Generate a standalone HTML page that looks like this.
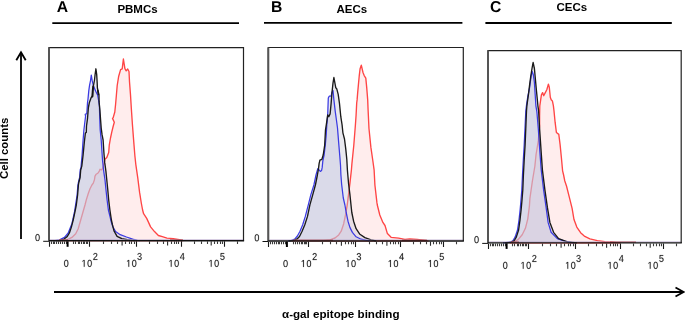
<!DOCTYPE html>
<html><head><meta charset="utf-8">
<style>
html,body{margin:0;padding:0;background:#fff;width:685px;height:321px;overflow:hidden}
svg{display:block;filter:blur(0.3px)}
text{font-family:"Liberation Sans",sans-serif}
.b{font-weight:bold}
.tl{font-size:10px;fill:#111}
.sp{font-size:8px;fill:#111}
</style></head><body>
<svg width="685" height="321" viewBox="0 0 685 321">
<text class="b" x="0" y="0" font-size="10.5" transform="translate(8.2,179) rotate(-90)" fill="#000" textLength="61.3" lengthAdjust="spacingAndGlyphs">Cell counts</text>
<line x1="21" y1="53" x2="21" y2="239" stroke="#000" stroke-width="1.8"/>
<polyline points="16.3,60.3 21,52.3 25.7,60.3" fill="none" stroke="#000" stroke-width="1.8"/>
<line x1="54" y1="292" x2="683" y2="292" stroke="#000" stroke-width="1.8"/>
<polyline points="675.5,287.5 683.6,292 675.5,296.5" fill="none" stroke="#000" stroke-width="1.8"/>
<text class="b" x="282" y="317.8" font-size="11" textLength="117.5" lengthAdjust="spacingAndGlyphs">α-gal epitope binding</text>
<text class="b" x="56.8" y="12" font-size="15.7" text-rendering="geometricPrecision">A</text>
<text class="b" x="117.4" y="13.1" font-size="11.5">PBMCs</text>
<line x1="52.3" y1="23.2" x2="239" y2="23.2" stroke="#000" stroke-width="1.8"/>
<text class="b" x="270.9" y="11.6" font-size="15.7" text-rendering="geometricPrecision">B</text>
<text class="b" x="336.5" y="13.1" font-size="11.5">AECs</text>
<line x1="264" y1="22.8" x2="462.4" y2="22.8" stroke="#000" stroke-width="1.8"/>
<text class="b" x="489.9" y="11.7" font-size="15.7" text-rendering="geometricPrecision">C</text>
<text class="b" x="556.5" y="11" font-size="11.5">CECs</text>
<line x1="485.4" y1="23" x2="671.8" y2="23" stroke="#000" stroke-width="1.8"/>
<defs><path id="g0" d="M1059 705Q1059 352 934.5 166.0Q810 -20 567 -20Q324 -20 202.0 165.0Q80 350 80 705Q80 1068 198.5 1249.0Q317 1430 573 1430Q822 1430 940.5 1247.0Q1059 1064 1059 705ZM876 705Q876 1010 805.5 1147.0Q735 1284 573 1284Q407 1284 334.5 1149.0Q262 1014 262 705Q262 405 335.5 266.0Q409 127 569 127Q728 127 802.0 269.0Q876 411 876 705Z"/><path id="g1" d="M515 0L515 1237L197 1010L197 1180L530 1409L696 1409L696 0Z"/><path id="g2" d="M103 0V127Q154 244 227.5 333.5Q301 423 382.0 495.5Q463 568 542.5 630.0Q622 692 686.0 754.0Q750 816 789.5 884.0Q829 952 829 1038Q829 1154 761.0 1218.0Q693 1282 572 1282Q457 1282 382.5 1219.5Q308 1157 295 1044L111 1061Q131 1230 254.5 1330.0Q378 1430 572 1430Q785 1430 899.5 1329.5Q1014 1229 1014 1044Q1014 962 976.5 881.0Q939 800 865.0 719.0Q791 638 582 468Q467 374 399.0 298.5Q331 223 301 153H1036V0Z"/><path id="g3" d="M1049 389Q1049 194 925.0 87.0Q801 -20 571 -20Q357 -20 229.5 76.5Q102 173 78 362L264 379Q300 129 571 129Q707 129 784.5 196.0Q862 263 862 395Q862 510 773.5 574.5Q685 639 518 639H416V795H514Q662 795 743.5 859.5Q825 924 825 1038Q825 1151 758.5 1216.5Q692 1282 561 1282Q442 1282 368.5 1221.0Q295 1160 283 1049L102 1063Q122 1236 245.5 1333.0Q369 1430 563 1430Q775 1430 892.5 1331.5Q1010 1233 1010 1057Q1010 922 934.5 837.5Q859 753 715 723V719Q873 702 961.0 613.0Q1049 524 1049 389Z"/><path id="g4" d="M881 319V0H711V319H47V459L692 1409H881V461H1079V319ZM711 1206Q709 1200 683.0 1153.0Q657 1106 644 1087L283 555L229 481L213 461H711Z"/><path id="g5" d="M1053 459Q1053 236 920.5 108.0Q788 -20 553 -20Q356 -20 235.0 66.0Q114 152 82 315L264 336Q321 127 557 127Q702 127 784.0 214.5Q866 302 866 455Q866 588 783.5 670.0Q701 752 561 752Q488 752 425.0 729.0Q362 706 299 651H123L170 1409H971V1256H334L307 809Q424 899 598 899Q806 899 929.5 777.0Q1053 655 1053 459Z"/></defs>
<path d="M58.0,240.6 L63.2,240.6 L67.0,239.9 L71.9,237.4 L75.7,233.7 L78.2,228.7 L80.7,220.0 L83.2,211.2 L85.0,205.0 L86.3,199.9 L88.2,193.7 L90.0,188.7 L91.9,185.0 L93.3,183.1 L94.4,179.9 L95.0,176.1 L96.2,174.2 L98.1,173.0 L99.3,171.1 L100.0,169.3 L101.8,169.9 L103.1,166.8 L104.9,159.3 L106.8,157.4 L108.7,152.5 L109.3,144.8 L110.5,138.0 L111.7,132.4 L113.0,127.0 L114.3,122.3 L112.5,118.4 L113.2,117.6 L114.8,112.0 L115.6,104.3 L116.4,95.0 L117.2,85.5 L118.7,76.2 L120.6,69.6 L122.2,68.9 L123.4,59.0 L124.9,68.7 L126.2,70.9 L127.7,69.0 L129.0,71.5 L129.5,81.8 L130.5,94.9 L131.4,109.5 L132.4,124.3 L133.7,141.1 L134.9,156.0 L135.8,164.3 L137.7,177.4 L139.6,192.4 L141.3,203.0 L142.6,210.0 L143.6,213.7 L146.7,218.4 L150.6,226.9 L154.5,231.6 L158.4,235.5 L162.3,236.7 L167.0,238.1 L173.2,238.6 L179.4,239.7 L183.0,240.6 Z" fill="#ffeded" stroke="#ff4545" stroke-width="1.35" stroke-linejoin="round"/>
<path d="M56.0,240.6 L59.5,240.5 L63.8,239.3 L67.0,236.8 L69.4,233.0 L71.3,227.4 L73.2,220.0 L75.1,211.2 L76.3,205.0 L77.6,195.0 L78.4,185.0 L78.8,182.5 L80.1,177.5 L80.7,170.0 L81.8,166.1 L83.1,155.0 L84.3,142.5 L85.4,133.0 L86.3,132.4 L86.5,126.0 L87.5,118.7 L88.4,107.5 L89.4,102.4 L91.2,97.5 L92.5,96.0 L92.8,90.0 L93.4,86.0 L94.5,80.0 L95.1,74.5 L95.9,68.8 L96.7,74.5 L97.2,83.2 L97.4,88.0 L98.2,91.5 L99.0,95.0 L99.1,101.9 L99.9,110.0 L100.6,120.0 L101.2,128.0 L102.1,134.9 L103.1,140.0 L103.9,152.5 L104.7,162.4 L105.9,171.1 L106.8,180.0 L107.8,190.0 L108.7,200.0 L109.9,210.0 L111.4,220.0 L112.5,225.0 L114.0,230.8 L117.1,236.3 L121.8,238.6 L127.3,239.7 L134.3,240.6 Z" fill="#c8c8d6" fill-opacity="0.4"/><path d="M55.0,240.6 L59.5,239.9 L64.5,237.4 L68.2,233.0 L71.9,223.7 L74.4,212.5 L75.8,203.6 L77.1,195.0 L77.9,185.0 L78.3,183.0 L79.6,177.5 L80.2,170.0 L81.0,167.4 L82.1,154.9 L83.1,140.0 L83.9,130.0 L84.5,125.0 L85.6,116.0 L85.2,114.3 L86.8,113.7 L87.5,102.5 L88.0,99.0 L88.2,96.9 L88.8,90.6 L89.5,85.7 L90.5,80.7 L91.3,75.1 L92.2,80.7 L93.5,86.0 L95.7,91.2 L97.6,94.9 L98.7,100.9 L99.4,106.0 L99.8,120.0 L100.2,130.0 L101.2,140.0 L102.5,160.0 L103.7,171.1 L105.0,180.0 L106.0,190.0 L107.1,200.0 L108.4,210.0 L110.2,217.4 L111.3,222.0 L113.0,227.0 L115.6,231.6 L120.2,234.7 L126.5,237.0 L132.7,239.1 L137.4,240.3 L140.0,240.6 Z" fill="#c4c4e0" fill-opacity="0.4"/>
<path d="M55.0,240.6 L59.5,239.9 L64.5,237.4 L68.2,233.0 L71.9,223.7 L74.4,212.5 L75.8,203.6 L77.1,195.0 L77.9,185.0 L78.3,183.0 L79.6,177.5 L80.2,170.0 L81.0,167.4 L82.1,154.9 L83.1,140.0 L83.9,130.0 L84.5,125.0 L85.6,116.0 L85.2,114.3 L86.8,113.7 L87.5,102.5 L88.0,99.0 L88.2,96.9 L88.8,90.6 L89.5,85.7 L90.5,80.7 L91.3,75.1 L92.2,80.7 L93.5,86.0 L95.7,91.2 L97.6,94.9 L98.7,100.9 L99.4,106.0 L99.8,120.0 L100.2,130.0 L101.2,140.0 L102.5,160.0 L103.7,171.1 L105.0,180.0 L106.0,190.0 L107.1,200.0 L108.4,210.0 L110.2,217.4 L111.3,222.0 L113.0,227.0 L115.6,231.6 L120.2,234.7 L126.5,237.0 L132.7,239.1 L137.4,240.3 L140.0,240.6" fill="none" stroke="#3a3ae2" stroke-width="1.25" stroke-linejoin="round"/>
<path d="M56.0,240.6 L59.5,240.5 L63.8,239.3 L67.0,236.8 L69.4,233.0 L71.3,227.4 L73.2,220.0 L75.1,211.2 L76.3,205.0 L77.6,195.0 L78.4,185.0 L78.8,182.5 L80.1,177.5 L80.7,170.0 L81.8,166.1 L83.1,155.0 L84.3,142.5 L85.4,133.0 L86.3,132.4 L86.5,126.0 L87.5,118.7 L88.4,107.5 L89.4,102.4 L91.2,97.5 L92.5,96.0 L92.8,90.0 L93.4,86.0 L94.5,80.0 L95.1,74.5 L95.9,68.8 L96.7,74.5 L97.2,83.2 L97.4,88.0 L98.2,91.5 L99.0,95.0 L99.1,101.9 L99.9,110.0 L100.6,120.0 L101.2,128.0 L102.1,134.9 L103.1,140.0 L103.9,152.5 L104.7,162.4 L105.9,171.1 L106.8,180.0 L107.8,190.0 L108.7,200.0 L109.9,210.0 L111.4,220.0 L112.5,225.0 L114.0,230.8 L117.1,236.3 L121.8,238.6 L127.3,239.7 L134.3,240.6" fill="none" stroke="#1a1a1a" stroke-width="1.35" stroke-linejoin="round"/>
<path d="M93.2,86.5 L92.7,91.0 L92.4,96.5" fill="none" stroke="#151515" stroke-width="1.9" stroke-linecap="round"/>
<path d="M97.8,90.5 L98.4,94.5" fill="none" stroke="#151515" stroke-width="1.6" stroke-linecap="round"/>
<line x1="50" y1="239.7" x2="243.5" y2="239.7" stroke="#b8a8cc" stroke-width="0.9" opacity="0.8"/>
<line x1="59" y1="240.0" x2="68" y2="240.0" stroke="#a02020" stroke-width="1" opacity="0.85"/>
<line x1="170" y1="240.0" x2="183" y2="240.0" stroke="#a02020" stroke-width="1" opacity="0.85"/>
<path d="M49,240.8 V47.6 H243.5 V240.8" fill="none" stroke="#222" stroke-width="1.2"/>
<line x1="49" y1="47.6" x2="49" y2="240.8" stroke="#555" stroke-width="2"/>
<line x1="49" y1="240.8" x2="244.1" y2="240.8" stroke="#111" stroke-width="1.4"/>
<line x1="43.2" y1="241.3" x2="49" y2="241.3" stroke="#111" stroke-width="1"/>
<g fill="#1a1a1a" stroke="#1a1a1a" stroke-width="30"><use href="#g0" transform="translate(35.05,241.00) scale(0.004395,-0.004883)"/></g>
<path d="M49.5,241.3v5.5 M89.5,241.3v5.5 M136.5,241.3v5.5 M181.5,241.3v5.5 M224.5,241.3v5.5 " stroke="#1a1a1a" stroke-width="1.1" fill="none"/>
<path d="M51.5,241.3v2.8 M53.5,241.3v2.8 M54.5,241.3v2.8 M56.5,241.3v2.8 M58.5,241.3v2.8 M60.5,241.3v2.8 M62.5,241.3v2.8 M64.5,241.3v2.8 M66.5,241.3v2.8 M73.5,241.3v2.8 M75.5,241.3v2.8 M78.5,241.3v2.8 M79.5,241.3v2.8 M81.5,241.3v2.8 M83.5,241.3v2.8 M84.5,241.3v2.8 M86.5,241.3v2.8 M87.5,241.3v2.8 M103.5,241.3v2.8 M111.5,241.3v2.8 M117.5,241.3v2.8 M125.5,241.3v2.8 M129.5,241.3v2.8 M131.5,241.3v2.8 M134.5,241.3v2.8 M149.5,241.3v2.8 M157.5,241.3v2.8 M163.5,241.3v2.8 M171.5,241.3v2.8 M174.5,241.3v2.8 M176.5,241.3v2.8 M178.5,241.3v2.8 M194.5,241.3v2.8 M201.5,241.3v2.8 M207.5,241.3v2.8 M214.5,241.3v2.8 M217.5,241.3v2.8 M220.5,241.3v2.8 M222.5,241.3v2.8 M237.5,241.3v2.8 " stroke="#3a3a3a" stroke-width="1.1" fill="none"/>
<path d="M122.1,241.3v4.3 M167.6,241.3v4.3 M211.2,241.3v4.3 " stroke="#2a2a2a" stroke-width="1.1" fill="none"/>
<path d="M67.6,241.3v5.5" stroke="#000" stroke-width="2" fill="none"/>
<g fill="#1a1a1a" stroke="#1a1a1a" stroke-width="30"><use href="#g0" transform="translate(63.75,266.80) scale(0.004395,-0.004883)"/><use href="#g1" transform="translate(81.53,266.80) scale(0.004395,-0.004883)"/><use href="#g0" transform="translate(87.15,266.80) scale(0.004395,-0.004883)"/><use href="#g2" transform="translate(92.85,259.90) scale(0.004395,-0.004883)"/><use href="#g1" transform="translate(126.13,266.80) scale(0.004395,-0.004883)"/><use href="#g0" transform="translate(131.75,266.80) scale(0.004395,-0.004883)"/><use href="#g3" transform="translate(137.06,259.90) scale(0.004395,-0.004883)"/><use href="#g1" transform="translate(168.53,266.80) scale(0.004395,-0.004883)"/><use href="#g0" transform="translate(174.15,266.80) scale(0.004395,-0.004883)"/><use href="#g4" transform="translate(179.79,259.90) scale(0.004395,-0.004883)"/><use href="#g1" transform="translate(208.53,266.80) scale(0.004395,-0.004883)"/><use href="#g0" transform="translate(214.15,266.80) scale(0.004395,-0.004883)"/><use href="#g5" transform="translate(219.94,259.90) scale(0.004395,-0.004883)"/></g>
<path d="M292.0,240.8 L322.0,240.8 L330.0,239.9 L335.0,238.0 L338.7,234.9 L341.2,231.2 L343.7,223.7 L345.5,215.0 L347.2,205.1 L348.6,193.8 L350.0,182.6 L351.4,170.0 L351.9,163.9 L353.8,145.2 L355.4,125.0 L356.1,115.0 L356.7,103.0 L357.1,99.9 L357.7,92.4 L358.4,84.9 L359.2,76.2 L360.1,68.7 L361.3,65.2 L363.0,72.5 L364.2,75.6 L365.8,78.1 L366.7,87.4 L367.3,94.9 L367.7,99.9 L368.1,110.0 L369.0,128.7 L370.9,147.4 L372.8,160.5 L374.1,169.8 L374.9,185.0 L376.9,202.4 L377.3,205.0 L379.8,215.0 L382.9,222.4 L385.0,225.5 L387.4,233.6 L391.1,237.3 L398.6,238.1 L404.9,239.3 L409.8,238.9 L417.3,239.3 L424.8,240.3 L428.0,240.8 Z" fill="#ffeded" stroke="#ff4545" stroke-width="1.35" stroke-linejoin="round"/>
<path d="M289.0,240.8 L293.7,240.4 L296.8,239.2 L299.5,236.5 L302.1,231.2 L304.8,224.8 L307.5,216.4 L309.9,204.9 L312.7,194.9 L315.4,185.0 L317.4,175.0 L318.5,168.7 L319.1,163.7 L319.9,160.2 L321.9,159.3 L323.2,155.0 L324.7,145.0 L325.5,129.8 L326.4,124.2 L327.7,114.9 L328.8,116.7 L330.1,113.9 L331.1,103.6 L332.0,92.4 L333.0,83.1 L333.9,77.5 L335.8,87.8 L336.7,88.7 L338.2,94.3 L339.5,103.6 L340.8,116.7 L342.1,125.0 L342.9,132.8 L344.5,139.0 L345.7,148.4 L346.8,159.3 L347.4,170.0 L348.6,184.0 L350.0,195.2 L351.0,205.0 L351.8,212.5 L353.6,221.2 L356.1,228.7 L359.9,234.3 L364.9,237.6 L371.1,239.9 L376.1,240.8 Z" fill="#c8c8d6" fill-opacity="0.4"/><path d="M288.0,240.8 L291.5,240.4 L294.7,239.2 L297.4,236.0 L300.0,231.2 L302.7,224.8 L305.3,216.4 L308.3,204.9 L310.8,194.9 L313.9,185.0 L316.0,174.9 L317.8,168.7 L319.1,169.9 L320.3,171.4 L321.6,170.5 L322.2,167.4 L322.8,161.2 L324.1,155.0 L325.3,145.0 L326.2,135.0 L326.8,125.0 L327.3,120.0 L327.7,114.9 L328.3,98.0 L329.2,96.2 L331.1,96.2 L332.0,92.4 L333.0,90.6 L333.9,99.9 L335.2,111.1 L336.7,122.0 L337.5,128.0 L338.5,140.6 L339.8,156.2 L340.5,165.0 L340.9,174.8 L341.6,184.0 L343.3,198.0 L344.9,205.0 L346.2,212.5 L348.0,221.2 L349.9,227.4 L352.4,232.4 L356.1,236.8 L361.1,239.2 L367.3,240.5 L370.0,240.8 Z" fill="#c4c4e0" fill-opacity="0.4"/>
<path d="M288.0,240.8 L291.5,240.4 L294.7,239.2 L297.4,236.0 L300.0,231.2 L302.7,224.8 L305.3,216.4 L308.3,204.9 L310.8,194.9 L313.9,185.0 L316.0,174.9 L317.8,168.7 L319.1,169.9 L320.3,171.4 L321.6,170.5 L322.2,167.4 L322.8,161.2 L324.1,155.0 L325.3,145.0 L326.2,135.0 L326.8,125.0 L327.3,120.0 L327.7,114.9 L328.3,98.0 L329.2,96.2 L331.1,96.2 L332.0,92.4 L333.0,90.6 L333.9,99.9 L335.2,111.1 L336.7,122.0 L337.5,128.0 L338.5,140.6 L339.8,156.2 L340.5,165.0 L340.9,174.8 L341.6,184.0 L343.3,198.0 L344.9,205.0 L346.2,212.5 L348.0,221.2 L349.9,227.4 L352.4,232.4 L356.1,236.8 L361.1,239.2 L367.3,240.5 L370.0,240.8" fill="none" stroke="#3a3ae2" stroke-width="1.25" stroke-linejoin="round"/>
<path d="M289.0,240.8 L293.7,240.4 L296.8,239.2 L299.5,236.5 L302.1,231.2 L304.8,224.8 L307.5,216.4 L309.9,204.9 L312.7,194.9 L315.4,185.0 L317.4,175.0 L318.5,168.7 L319.1,163.7 L319.9,160.2 L321.9,159.3 L323.2,155.0 L324.7,145.0 L325.5,129.8 L326.4,124.2 L327.7,114.9 L328.8,116.7 L330.1,113.9 L331.1,103.6 L332.0,92.4 L333.0,83.1 L333.9,77.5 L335.8,87.8 L336.7,88.7 L338.2,94.3 L339.5,103.6 L340.8,116.7 L342.1,125.0 L342.9,132.8 L344.5,139.0 L345.7,148.4 L346.8,159.3 L347.4,170.0 L348.6,184.0 L350.0,195.2 L351.0,205.0 L351.8,212.5 L353.6,221.2 L356.1,228.7 L359.9,234.3 L364.9,237.6 L371.1,239.9 L376.1,240.8" fill="none" stroke="#1a1a1a" stroke-width="1.35" stroke-linejoin="round"/>
<line x1="269.3" y1="239.9" x2="463.3" y2="239.9" stroke="#b8a8cc" stroke-width="0.9" opacity="0.8"/>
<line x1="293" y1="240.2" x2="333" y2="240.2" stroke="#a02020" stroke-width="1" opacity="0.85"/>
<line x1="402" y1="240.2" x2="427" y2="240.2" stroke="#a02020" stroke-width="1" opacity="0.85"/>
<path d="M268.3,241.0 V47.5 H463.3 V241.0" fill="none" stroke="#222" stroke-width="1.2"/>
<line x1="268.3" y1="47.5" x2="268.3" y2="241.0" stroke="#555" stroke-width="2"/>
<line x1="268.3" y1="241.0" x2="463.90000000000003" y2="241.0" stroke="#111" stroke-width="1.4"/>
<line x1="262.5" y1="241.5" x2="268.3" y2="241.5" stroke="#111" stroke-width="1"/>
<g fill="#1a1a1a" stroke="#1a1a1a" stroke-width="30"><use href="#g0" transform="translate(254.35,241.20) scale(0.004395,-0.004883)"/></g>
<path d="M268.5,241.5v5.5 M308.5,241.5v5.5 M355.5,241.5v5.5 M400.5,241.5v5.5 M443.5,241.5v5.5 " stroke="#1a1a1a" stroke-width="1.1" fill="none"/>
<path d="M270.5,241.5v2.8 M272.5,241.5v2.8 M274.5,241.5v2.8 M276.5,241.5v2.8 M278.5,241.5v2.8 M279.5,241.5v2.8 M281.5,241.5v2.8 M283.5,241.5v2.8 M285.5,241.5v2.8 M293.5,241.5v2.8 M295.5,241.5v2.8 M297.5,241.5v2.8 M299.5,241.5v2.8 M301.5,241.5v2.8 M302.5,241.5v2.8 M304.5,241.5v2.8 M305.5,241.5v2.8 M306.5,241.5v2.8 M322.5,241.5v2.8 M330.5,241.5v2.8 M336.5,241.5v2.8 M345.5,241.5v2.8 M348.5,241.5v2.8 M351.5,241.5v2.8 M353.5,241.5v2.8 M369.5,241.5v2.8 M376.5,241.5v2.8 M382.5,241.5v2.8 M390.5,241.5v2.8 M393.5,241.5v2.8 M395.5,241.5v2.8 M398.5,241.5v2.8 M413.5,241.5v2.8 M420.5,241.5v2.8 M426.5,241.5v2.8 M433.5,241.5v2.8 M436.5,241.5v2.8 M439.5,241.5v2.8 M441.5,241.5v2.8 M456.5,241.5v2.8 " stroke="#3a3a3a" stroke-width="1.1" fill="none"/>
<path d="M341.4,241.5v4.3 M386.9,241.5v4.3 M430.5,241.5v4.3 " stroke="#2a2a2a" stroke-width="1.1" fill="none"/>
<path d="M286.9,241.5v5.5" stroke="#000" stroke-width="2" fill="none"/>
<g fill="#1a1a1a" stroke="#1a1a1a" stroke-width="30"><use href="#g0" transform="translate(283.05,267.00) scale(0.004395,-0.004883)"/><use href="#g1" transform="translate(300.83,267.00) scale(0.004395,-0.004883)"/><use href="#g0" transform="translate(306.45,267.00) scale(0.004395,-0.004883)"/><use href="#g2" transform="translate(312.15,260.10) scale(0.004395,-0.004883)"/><use href="#g1" transform="translate(345.43,267.00) scale(0.004395,-0.004883)"/><use href="#g0" transform="translate(351.05,267.00) scale(0.004395,-0.004883)"/><use href="#g3" transform="translate(356.36,260.10) scale(0.004395,-0.004883)"/><use href="#g1" transform="translate(387.83,267.00) scale(0.004395,-0.004883)"/><use href="#g0" transform="translate(393.45,267.00) scale(0.004395,-0.004883)"/><use href="#g4" transform="translate(399.09,260.10) scale(0.004395,-0.004883)"/><use href="#g1" transform="translate(427.83,267.00) scale(0.004395,-0.004883)"/><use href="#g0" transform="translate(433.45,267.00) scale(0.004395,-0.004883)"/><use href="#g5" transform="translate(439.24,260.10) scale(0.004395,-0.004883)"/></g>
<path d="M510.0,242.9 L514.3,241.8 L518.3,239.4 L522.2,234.7 L525.4,228.3 L527.8,218.8 L529.4,206.1 L529.9,198.4 L532.4,181.0 L534.9,166.0 L536.0,155.0 L538.3,140.9 L539.6,126.0 L539.6,116.0 L539.8,105.8 L541.4,94.9 L542.6,92.6 L543.7,95.7 L545.3,92.6 L546.8,89.7 L548.4,84.1 L549.3,87.2 L550.3,97.2 L551.2,99.7 L552.4,100.9 L553.4,105.9 L554.0,110.9 L555.1,122.2 L556.4,132.5 L558.8,134.4 L560.1,144.6 L561.4,157.7 L562.6,170.8 L563.6,175.0 L564.8,181.0 L566.5,186.0 L569.3,197.2 L572.1,208.4 L574.0,219.6 L576.8,227.1 L580.6,232.7 L584.3,236.1 L589.9,238.9 L597.4,240.6 L604.9,241.7 L612.3,242.1 L616.1,242.6 L620.0,242.9 Z" fill="#ffeded" stroke="#ff4545" stroke-width="1.35" stroke-linejoin="round"/>
<path d="M505.0,242.9 L508.0,242.6 L511.1,242.1 L514.0,241.0 L516.3,237.1 L518.6,230.0 L520.0,220.0 L521.1,210.0 L522.0,200.0 L522.8,190.0 L523.4,175.0 L524.2,160.0 L525.1,145.0 L525.8,128.0 L526.5,110.7 L526.9,105.8 L527.3,102.7 L528.6,93.4 L529.7,84.0 L530.8,76.2 L532.0,68.5 L533.1,62.5 L534.4,68.5 L535.4,79.4 L536.4,90.3 L537.5,101.2 L537.9,105.8 L538.6,110.7 L539.6,128.7 L541.1,151.1 L542.4,169.8 L544.9,189.9 L547.4,207.4 L549.9,222.4 L553.6,232.3 L558.6,238.6 L567.3,241.8 L574.8,242.6 L577.0,242.9 Z" fill="#c8c8d6" fill-opacity="0.4"/><path d="M503.0,242.9 L506.0,242.7 L509.5,242.1 L512.7,241.0 L515.1,237.1 L517.5,230.0 L519.0,220.0 L520.1,210.0 L521.0,200.0 L521.8,190.0 L522.5,175.0 L523.3,160.0 L524.2,145.0 L525.0,128.0 L525.8,111.0 L526.6,104.3 L527.8,96.5 L529.7,87.2 L531.2,75.5 L532.3,71.6 L533.3,74.7 L534.4,82.5 L535.1,93.4 L535.9,105.8 L536.9,112.0 L538.3,128.7 L539.8,151.0 L541.2,169.8 L543.6,189.9 L546.1,207.4 L548.1,222.4 L551.1,232.3 L557.3,238.6 L564.8,241.1 L572.0,242.6 L574.0,242.9 Z" fill="#c4c4e0" fill-opacity="0.4"/>
<path d="M503.0,242.9 L506.0,242.7 L509.5,242.1 L512.7,241.0 L515.1,237.1 L517.5,230.0 L519.0,220.0 L520.1,210.0 L521.0,200.0 L521.8,190.0 L522.5,175.0 L523.3,160.0 L524.2,145.0 L525.0,128.0 L525.8,111.0 L526.6,104.3 L527.8,96.5 L529.7,87.2 L531.2,75.5 L532.3,71.6 L533.3,74.7 L534.4,82.5 L535.1,93.4 L535.9,105.8 L536.9,112.0 L538.3,128.7 L539.8,151.0 L541.2,169.8 L543.6,189.9 L546.1,207.4 L548.1,222.4 L551.1,232.3 L557.3,238.6 L564.8,241.1 L572.0,242.6 L574.0,242.9" fill="none" stroke="#3a3ae2" stroke-width="1.25" stroke-linejoin="round"/>
<path d="M505.0,242.9 L508.0,242.6 L511.1,242.1 L514.0,241.0 L516.3,237.1 L518.6,230.0 L520.0,220.0 L521.1,210.0 L522.0,200.0 L522.8,190.0 L523.4,175.0 L524.2,160.0 L525.1,145.0 L525.8,128.0 L526.5,110.7 L526.9,105.8 L527.3,102.7 L528.6,93.4 L529.7,84.0 L530.8,76.2 L532.0,68.5 L533.1,62.5 L534.4,68.5 L535.4,79.4 L536.4,90.3 L537.5,101.2 L537.9,105.8 L538.6,110.7 L539.6,128.7 L541.1,151.1 L542.4,169.8 L544.9,189.9 L547.4,207.4 L549.9,222.4 L553.6,232.3 L558.6,238.6 L567.3,241.8 L574.8,242.6 L577.0,242.9" fill="none" stroke="#1a1a1a" stroke-width="1.35" stroke-linejoin="round"/>
<line x1="489" y1="241.8" x2="681.2" y2="241.8" stroke="#b8a8cc" stroke-width="0.9" opacity="0.8"/>
<line x1="511" y1="242.1" x2="519" y2="242.1" stroke="#a02020" stroke-width="1" opacity="0.85"/>
<line x1="610" y1="242.1" x2="636" y2="242.1" stroke="#a02020" stroke-width="1" opacity="0.85"/>
<path d="M488,242.9 V50.6 H681.2 V242.9" fill="none" stroke="#222" stroke-width="1.2"/>
<line x1="488" y1="50.6" x2="488" y2="242.9" stroke="#555" stroke-width="2"/>
<line x1="488" y1="242.9" x2="681.8000000000001" y2="242.9" stroke="#111" stroke-width="1.4"/>
<line x1="482.2" y1="243.4" x2="488" y2="243.4" stroke="#111" stroke-width="1"/>
<g fill="#1a1a1a" stroke="#1a1a1a" stroke-width="30"><use href="#g0" transform="translate(474.05,243.10) scale(0.004395,-0.004883)"/></g>
<path d="M488.5,243.4v5.5 M528.5,243.4v5.5 M575.5,243.4v5.5 M620.5,243.4v5.5 M663.5,243.4v5.5 " stroke="#1a1a1a" stroke-width="1.1" fill="none"/>
<path d="M490.5,243.4v2.8 M492.5,243.4v2.8 M493.5,243.4v2.8 M495.5,243.4v2.8 M497.5,243.4v2.8 M499.5,243.4v2.8 M501.5,243.4v2.8 M503.5,243.4v2.8 M505.5,243.4v2.8 M512.5,243.4v2.8 M514.5,243.4v2.8 M517.5,243.4v2.8 M518.5,243.4v2.8 M520.5,243.4v2.8 M522.5,243.4v2.8 M523.5,243.4v2.8 M525.5,243.4v2.8 M526.5,243.4v2.8 M542.5,243.4v2.8 M550.5,243.4v2.8 M556.5,243.4v2.8 M564.5,243.4v2.8 M568.5,243.4v2.8 M570.5,243.4v2.8 M573.5,243.4v2.8 M588.5,243.4v2.8 M596.5,243.4v2.8 M602.5,243.4v2.8 M610.5,243.4v2.8 M613.5,243.4v2.8 M615.5,243.4v2.8 M617.5,243.4v2.8 M633.5,243.4v2.8 M640.5,243.4v2.8 M646.5,243.4v2.8 M653.5,243.4v2.8 M656.5,243.4v2.8 M659.5,243.4v2.8 M661.5,243.4v2.8 M676.5,243.4v2.8 " stroke="#3a3a3a" stroke-width="1.1" fill="none"/>
<path d="M561.1,243.4v4.3 M606.6,243.4v4.3 M650.2,243.4v4.3 " stroke="#2a2a2a" stroke-width="1.1" fill="none"/>
<path d="M506.6,243.4v5.5" stroke="#000" stroke-width="2" fill="none"/>
<g fill="#1a1a1a" stroke="#1a1a1a" stroke-width="30"><use href="#g0" transform="translate(502.75,268.80) scale(0.004395,-0.004883)"/><use href="#g1" transform="translate(520.53,268.80) scale(0.004395,-0.004883)"/><use href="#g0" transform="translate(526.15,268.80) scale(0.004395,-0.004883)"/><use href="#g2" transform="translate(531.85,261.90) scale(0.004395,-0.004883)"/><use href="#g1" transform="translate(565.13,268.80) scale(0.004395,-0.004883)"/><use href="#g0" transform="translate(570.75,268.80) scale(0.004395,-0.004883)"/><use href="#g3" transform="translate(576.06,261.90) scale(0.004395,-0.004883)"/><use href="#g1" transform="translate(607.53,268.80) scale(0.004395,-0.004883)"/><use href="#g0" transform="translate(613.15,268.80) scale(0.004395,-0.004883)"/><use href="#g4" transform="translate(618.79,261.90) scale(0.004395,-0.004883)"/><use href="#g1" transform="translate(647.53,268.80) scale(0.004395,-0.004883)"/><use href="#g0" transform="translate(653.15,268.80) scale(0.004395,-0.004883)"/><use href="#g5" transform="translate(658.94,261.90) scale(0.004395,-0.004883)"/></g>
</svg>
</body></html>
